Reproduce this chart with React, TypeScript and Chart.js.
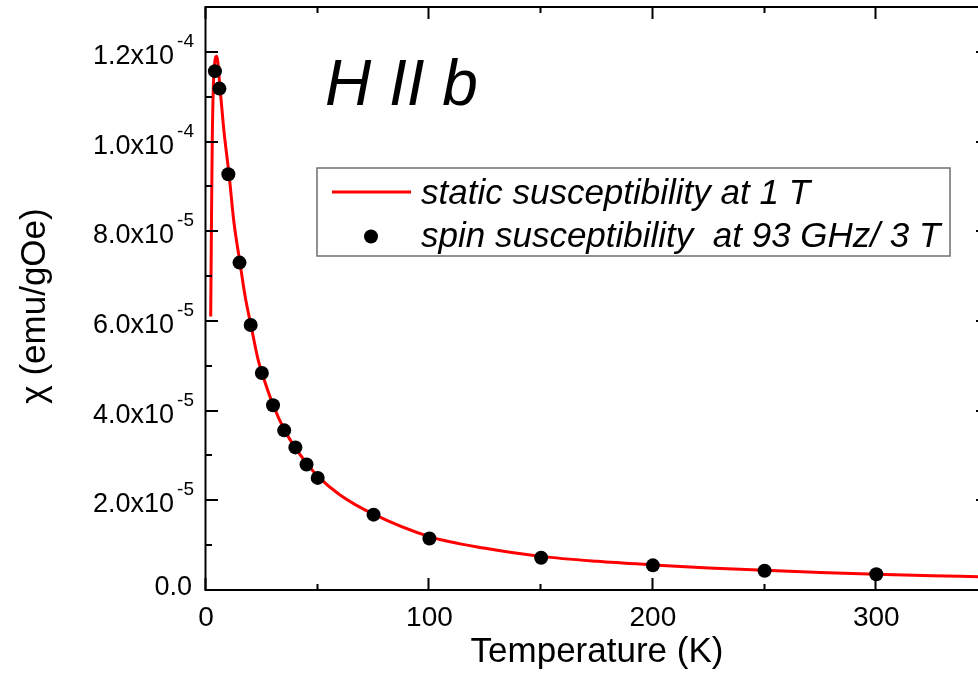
import React, { useEffect, useRef } from "react";
import { Chart, registerables } from "chart.js";

Chart.register(...registerables);

// Static susceptibility curve (T in K, chi in 1e-6 emu/gOe)
const curveT = [2.1, 2.5, 2.8, 3.3, 3.9, 4.8, 6.3, 8.0, 10.3, 12.5, 15.2, 17.5, 20.1, 23.4, 25, 30, 35, 40, 45, 50, 60, 75, 100, 125, 150, 175, 200, 225, 250, 275, 300, 325, 350];
const curveChi = [61.0, 85.0, 100.0, 112.5, 117.5, 119.0, 111.8, 102.5, 92.7, 82.0, 73.0, 65.5, 59.1, 51.2, 48.5, 41.3, 35.8, 31.7, 28.3, 25.4, 21.2, 16.9, 11.9, 9.3, 7.5, 6.4, 5.6, 4.9, 4.4, 3.9, 3.5, 3.2, 2.9];

// Spin susceptibility points (T in K, chi in 1e-6 emu/gOe)
const dotT = [4, 6, 10, 15, 20, 25, 30, 35, 40, 45, 50, 75, 100, 150, 200, 250, 300];
const dotChi = [115.7, 111.8, 92.7, 73.0, 59.1, 48.4, 41.2, 35.6, 31.8, 28.0, 25.0, 16.8, 11.5, 7.2, 5.5, 4.3, 3.5];

const seriesLabels = ["static susceptibility at 1 T", "spin susceptibility  at 93 GHz/ 3 T"];

const xTickValues = [0, 100, 200, 300];
const xTickLabels = ["0", "100", "200", "300"];
const xMinorValues = [50, 150, 250];

const yTickValues = [0, 20, 40, 60, 80, 100, 120];
const yTickMantissa = ["0.0", "2.0x10", "4.0x10", "6.0x10", "8.0x10", "1.0x10", "1.2x10"];
const yTickExponent = ["", "-5", "-5", "-5", "-5", "-4", "-4"];
const yMinorValues = [10, 30, 50, 70, 90, 110];

const titleText = "H II b";
const xTitle = "Temperature (K)";
const yTitle = "χ (emu/gOe)";

const FONT = '"Liberation Sans", Arial, Helvetica, sans-serif';

const framePlugin = {
  id: "frame",
  afterDatasetsDraw(chart: any) {
    const ctx: CanvasRenderingContext2D = chart.ctx;
    const { left, right, top, bottom } = chart.chartArea;
    const xs = chart.scales.x;
    const ys = chart.scales.y;
    ctx.save();
    ctx.strokeStyle = "#000";
    ctx.fillStyle = "#000";
    ctx.lineWidth = 2;
    ctx.lineCap = "butt";
    // frame
    ctx.beginPath();
    ctx.rect(left - 0.5, top, right - left, bottom - top);
    ctx.stroke();

    const major = 12;
    const minor = 6;
    // x ticks (bottom and top, inward)
    const drawX = (v: number, len: number) => {
      const px = Math.round(xs.getPixelForValue(v)) - 0.5;
      ctx.beginPath();
      ctx.moveTo(px, bottom);
      ctx.lineTo(px, bottom - len);
      ctx.moveTo(px, top);
      ctx.lineTo(px, top + len);
      ctx.stroke();
    };
    xTickValues.forEach((v) => drawX(v, major));
    xMinorValues.forEach((v) => drawX(v, minor));
    // y ticks (left and right, inward)
    const drawY = (v: number, len: number) => {
      const py = Math.round(ys.getPixelForValue(v));
      ctx.beginPath();
      ctx.moveTo(left, py);
      ctx.lineTo(left + len, py);
      ctx.moveTo(right, py);
      ctx.lineTo(right - len, py);
      ctx.stroke();
    };
    yTickValues.forEach((v) => drawY(v, major));
    yMinorValues.forEach((v) => drawY(v, minor));

    // x tick labels
    ctx.font = `28px ${FONT}`;
    ctx.textAlign = "center";
    ctx.textBaseline = "alphabetic";
    xTickValues.forEach((v, i) => {
      ctx.fillText(xTickLabels[i], xs.getPixelForValue(v), bottom + 36);
    });

    // y tick labels with superscript exponent
    const labelRight = 194;
    yTickValues.forEach((v, i) => {
      const py = ys.getPixelForValue(v);
      const exp = yTickExponent[i];
      ctx.textAlign = "left";
      if (exp) {
        ctx.font = `19px ${FONT}`;
        const ew = ctx.measureText(exp).width;
        const base = py + 12;
        ctx.fillText(exp, labelRight - ew, base - 17);
        ctx.font = `27px ${FONT}`;
        ctx.textAlign = "right";
        ctx.fillText(yTickMantissa[i], labelRight - ew - 3, base);
      } else {
        ctx.font = `27px ${FONT}`;
        ctx.textAlign = "right";
        ctx.fillText(yTickMantissa[i], labelRight - 2, py + 5);
      }
    });

    // axis titles
    ctx.font = `35px ${FONT}`;
    ctx.textAlign = "center";
    ctx.fillText(xTitle, (left + right) / 2, 662);
    ctx.save();
    ctx.translate(45, 306);
    ctx.rotate(-Math.PI / 2);
    ctx.fillText(yTitle, 0, 0);
    ctx.restore();

    // big title
    ctx.font = `italic 64px ${FONT}`;
    ctx.textAlign = "left";
    ctx.fillText(titleText, 325, 105);

    // legend
    const ds = chart.data.datasets;
    ctx.lineWidth = 1.5;
    ctx.strokeStyle = "#6e6e6e";
    ctx.strokeRect(317, 168, 633, 88);
    ctx.strokeStyle = ds[0].borderColor;
    ctx.lineWidth = 3;
    ctx.beginPath();
    ctx.moveTo(332, 192);
    ctx.lineTo(411, 192);
    ctx.stroke();
    ctx.fillStyle = ds[1].backgroundColor;
    ctx.beginPath();
    ctx.arc(371, 236.5, 7, 0, Math.PI * 2);
    ctx.fill();
    ctx.fillStyle = "#000";
    ctx.font = `italic 35px ${FONT}`;
    ctx.textAlign = "left";
    ctx.fillText(ds[0].label, 421, 204);
    ctx.fillText(ds[1].label, 421, 246.5);
    ctx.restore();
  },
};

export default function App() {
  const ref = useRef<HTMLCanvasElement | null>(null);
  useEffect(() => {
    if (!ref.current) return;
    const chart = new Chart(ref.current, {
      type: "scatter",
      data: {
        datasets: [
          {
            label: seriesLabels[0],
            data: curveT.map((t, i) => ({ x: t, y: curveChi[i] })),
            showLine: true,
            borderColor: "#ff0000",
            backgroundColor: "#ff0000",
            borderWidth: 3,
            pointRadius: 0,
            cubicInterpolationMode: "monotone",
            order: 2,
          } as any,
          {
            label: seriesLabels[1],
            data: dotT.map((t, i) => ({ x: t, y: dotChi[i] })),
            showLine: false,
            borderColor: "#000000",
            backgroundColor: "#000000",
            borderWidth: 0,
            pointRadius: 7,
            order: 1,
          } as any,
        ],
      },
      options: {
        animation: false,
        responsive: false,
        devicePixelRatio: 1,
        events: [],
        layout: { padding: { left: 0, right: 12, top: 7, bottom: 0 }, autoPadding: false },
        plugins: { legend: { display: false }, tooltip: { enabled: false } },
        scales: {
          x: {
            type: "linear",
            min: 0,
            max: 350,
            grid: { display: false },
            border: { display: false },
            ticks: { display: false },
            afterFit: (s: any) => {
              s.height = 100;
            },
          },
          y: {
            type: "linear",
            min: 0,
            max: 130,
            grid: { display: false },
            border: { display: false },
            ticks: { display: false },
            afterFit: (s: any) => {
              s.width = 206;
            },
          },
        },
      } as any,
      plugins: [framePlugin],
    });
    return () => chart.destroy();
  }, []);
  return (
    <div
      style={{
        position: "fixed",
        left: 0,
        top: 0,
        width: 978,
        height: 690,
        overflow: "hidden",
        background: "#fff",
      }}
    >
      <canvas ref={ref} width={1000} height={690} style={{ display: "block", width: 1000, height: 690 }} />
    </div>
  );
}
